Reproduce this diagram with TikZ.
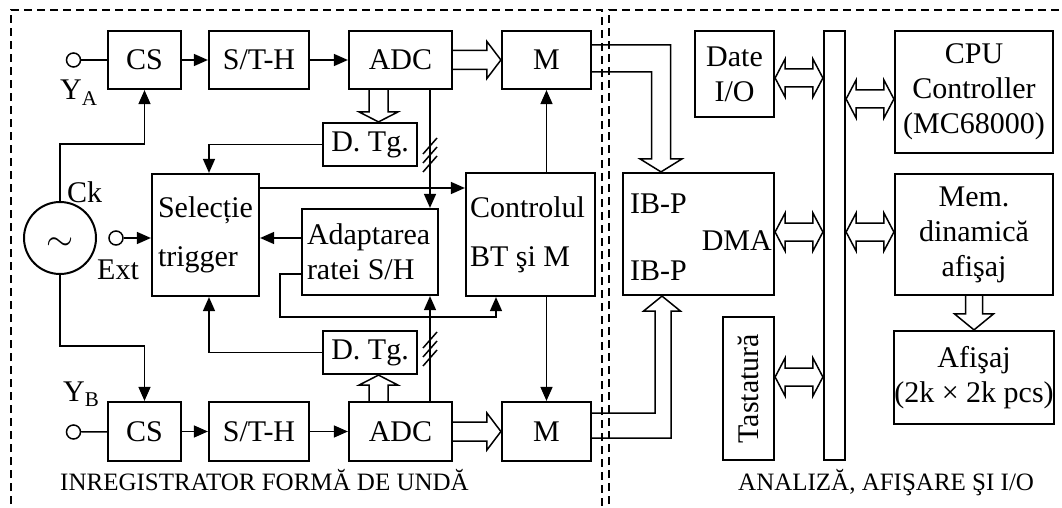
\documentclass[tikz,border=0pt]{standalone}
\usepackage{fontspec}
\setmainfont{Liberation Serif}
\usepackage{graphicx}
\usetikzlibrary{arrows.meta, calc}

\tikzset{
  blk/.style={draw, line width=2.2pt, inner sep=0pt, align=center},
  txtl/.style={blk, align=flush left},
  con/.style={line width=1.5pt},
  arr/.style={con, -{Triangle[length=14pt,width=12pt]}},
  fat/.style={line width=1.5pt, line join=miter},
  port/.style={draw, circle, line width=1.5pt, minimum size=14pt, inner sep=0pt},
  zone/.style={line width=2pt, dash pattern=on 8pt off 5pt},
  lbl/.style={anchor=base west, inner sep=0pt},
}

% hollow double arrow between two points (y taken from the first one)
\newcommand{\dblarrow}[2]{%
  \draw[fat] let \p1=(#1), \p2=(#2) in
    (\x1,\y1) -- (\x1+10pt,\y1+19pt) -- (\x1+10pt,\y1+9pt)
    -- (\x2-10pt,\y1+9pt) -- (\x2-10pt,\y1+19pt) -- (\x2,\y1)
    -- (\x2-10pt,\y1-19pt) -- (\x2-10pt,\y1-9pt)
    -- (\x1+10pt,\y1-9pt) -- (\x1+10pt,\y1-19pt) -- cycle;}

\begin{document}
\begin{tikzpicture}[x=1pt, y=1pt, font=\fontsize{30}{35}\selectfont]
  \useasboundingbox (0,0) rectangle (1062,-508);
  \clip (0,0) rectangle (1062,-508);
  % zones
  \draw[zone] (11,-530) |- (602,-10) -- (602,-530);
  \draw[zone] (609,-530) |- (1080,-10);

  % channel A
  \node[port] (inA) at (73.5,-60) {};
  \node[blk, minimum width=73pt, minimum height=58pt] (csA) at (144.5,-60) {CS};
  \node[blk, minimum width=100pt, minimum height=58pt] (sthA) at (259,-60) {S/T-H};
  \node[blk, minimum width=103pt, minimum height=58pt] (adcA) at (400.5,-60) {ADC};
  \node[blk, minimum width=89pt, minimum height=58pt] (mA) at (546.5,-60) {M};
  \node[blk, minimum width=94pt, minimum height=43pt] (dtgA) at (370,-144.5) {D. Tg.};
  % channel B
  \node[port] (inB) at (73.5,-432) {};
  \node[blk, minimum width=73pt, minimum height=59pt] (csB) at (144.5,-431.5) {CS};
  \node[blk, minimum width=100pt, minimum height=59pt] (sthB) at (259,-431.5) {S/T-H};
  \node[blk, minimum width=103pt, minimum height=59pt] (adcB) at (400.5,-431.5) {ADC};
  \node[blk, minimum width=89pt, minimum height=59pt] (mB) at (546.5,-431.5) {M};
  \node[blk, minimum width=94pt, minimum height=43pt] (dtgB) at (370,-352.5) {D. Tg.};
  % trigger and control
  \node[txtl, text width=95pt, inner xsep=6pt, minimum height=122pt] (sel) at (205.5,-235) {Selecție\\[14pt]trigger};
  \node[txtl, text width=126pt, inner xsep=5pt, minimum height=86pt] (adapt) at (370,-252) {Adaptarea\\ratei S/H};
  \node[txtl, text width=121pt, inner xsep=4pt, minimum height=123pt] (ctrl) at (530.5,-234.5) {Controlul\\[14pt]BT şi M};
  \node[port] (inExt) at (116,-238) {};
  \node[circle, draw, line width=2pt, minimum size=72pt, inner sep=0pt] (clk) at (60,-238) {};
  \node[inner sep=0pt] (tilde) at (60,-244) {\scalebox{1.4}{$\sim$}};
  % labels
  \node[lbl] (lblYA) at (60,-100) {Y\textsubscript{A}};
  \node[lbl] (lblYB) at (63,-401.5) {Y\textsubscript{B}};
  \node[lbl] (lblCk) at (67,-202) {Ck};
  \node[lbl] (lblExt) at (97,-279) {Ext};

  % analysis side
  \node[blk, minimum width=79pt, minimum height=86pt] (dateio) at (734.5,-74) {Date\\I/O};
  \node[blk, minimum width=21pt, minimum height=429pt] (bus) at (834.5,-245.5) {};
  \node[blk, minimum width=158pt, minimum height=122pt] (cpu) at (974,-92) {CPU\\Controller\\(MC68000)};
  \node[blk, minimum width=151pt, minimum height=122pt] (ibp) at (698.5,-234) {};
  \node[lbl] (ibpT) at (630,-213) {IB-P};
  \node[lbl] (ibpB) at (630,-280) {IB-P};
  \node[anchor=base east, inner sep=0pt] (dma) at (772,-250) {DMA};
  \node[blk, minimum width=158pt, minimum height=121pt] (mem) at (974,-234.5) {Mem.\\dinamică\\afişaj};
  \node[blk, minimum width=158pt, minimum height=93pt] (afis) at (974,-377.5) {Afişaj\\(2k × 2k pcs)};
  \node[blk, minimum width=51pt, minimum height=143pt] (tast) at (748.5,-388.5) {\rotatebox{90}{Tastatură}};

  % titles
  \node[lbl, font=\fontsize{25}{30}\selectfont] (titleL) at (60,-490) {INREGISTRATOR FORMĂ DE UNDĂ};
  \node[lbl, font=\fontsize{25}{30}\selectfont] (titleR) at (738,-490) {ANALIZĂ, AFIŞARE ŞI I/O};

  % signal paths
  \draw[con] (inA) -- (csA);
  \draw[arr] (csA) -- (sthA);
  \draw[arr] (sthA) -- (adcA);
  \draw[con] (inB) -- (csB);
  \draw[arr] (csB) -- (sthB);
  \draw[arr] (sthB) -- (adcB);
  \draw[arr] (clk.north) -- ++(0,57) -| (csA.south);
  \draw[arr] (clk.south) -- ++(0,-71) -| (csB.north);
  \draw[arr] (inExt.east) -- (inExt.east -| sel.west);
  \draw[arr] (dtgA.west) -| ([xshift=3.5pt]sel.north);
  \draw[arr] (dtgB.west) -| ([xshift=3.5pt]sel.south);
  \draw[arr] ([yshift=14pt]adapt.west) -- ([yshift=14pt]adapt.west -| sel.east);
  \draw[arr] ([yshift=47pt]sel.east) -- ([yshift=47pt]sel.east -| ctrl.west);
  \draw[arr] ([yshift=-22pt]adapt.west) -- ++(-21,0) -- ++(0,-43) -| ([xshift=-34.5pt]ctrl.south);
  \draw[arr] (mA.south |- ctrl.north) -- (mA.south);
  \draw[arr] (mB.north |- ctrl.south) -- (mB.north);
  % sample buses with hatch
  \coordinate (busA) at ([xshift=29.5pt]adcA.south);
  \coordinate (busB) at ([xshift=29.5pt]adcB.north);
  \draw[arr] (busA) -- (busA |- adapt.north);
  \draw[arr] (busB) -- (busB |- adapt.south);
  \foreach \d in {-9,0,9} {
    \draw[con] ($(busA |- 0,-155)+(-7,\d-8)$) -- ++(14,16);
    \draw[con] ($(busB |- 0,-349)+(-7,\d-8)$) -- ++(14,16);
  }

  % hollow arrows
  \draw[fat] let \p1=(adcA.east), \p2=(mA.west) in
    (\x1,\y1+9.5pt) -- (\x2-14pt,\y1+9.5pt) -- (\x2-14pt,\y1+18.5pt) -- (\x2,\y1)
    -- (\x2-14pt,\y1-18.5pt) -- (\x2-14pt,\y1-9.5pt) -- (\x1,\y1-9.5pt);
  \draw[fat] let \p1=(adcB.east), \p2=(mB.west) in
    (\x1,\y1+9.5pt) -- (\x2-14pt,\y1+9.5pt) -- (\x2-14pt,\y1+18.5pt) -- (\x2,\y1)
    -- (\x2-14pt,\y1-18.5pt) -- (\x2-14pt,\y1-9.5pt) -- (\x1,\y1-9.5pt);
  \draw[fat] let \p1=($(adcA.south)+(-22,0)$), \p2=(dtgA.north) in
    (\x1-9.5pt,\y1) -- (\x1-9.5pt,\y2+10pt) -- (\x1-19.5pt,\y2+10pt) -- (\x1,\y2)
    -- (\x1+19.5pt,\y2+10pt) -- (\x1+9.5pt,\y2+10pt) -- (\x1+9.5pt,\y1);
  \draw[fat] let \p1=($(adcB.north)+(-22,0)$), \p2=(dtgB.south) in
    (\x1-9.5pt,\y1) -- (\x1-9.5pt,\y2-10pt) -- (\x1-19.5pt,\y2-10pt) -- (\x1,\y2)
    -- (\x1+19.5pt,\y2-10pt) -- (\x1+9.5pt,\y2-10pt) -- (\x1+9.5pt,\y1);
  \draw[fat] let \p1=(mA.east), \p2=($(ibp.north)+(-37.5,0)$) in
    (\x1,\y1+15pt) -- (\x2+9.5pt,\y1+15pt) -- (\x2+9.5pt,\y2+13pt) -- (\x2+21pt,\y2+13pt)
    -- (\x2,\y2) -- (\x2-21pt,\y2+13pt) -- (\x2-9.5pt,\y2+13pt) -- (\x2-9.5pt,\y1-12pt)
    -- (\x1,\y1-12pt);
  \draw[fat] let \p1=(mB.east), \p2=($(ibp.south)+(-36.5,0)$) in
    (\x1,\y1+18.5pt) -- (\x2-7pt,\y1+18.5pt) -- (\x2-7pt,\y2-15pt) -- (\x2-18.5pt,\y2-15pt)
    -- (\x2,\y2) -- (\x2+18.5pt,\y2-15pt) -- (\x2+9pt,\y2-15pt) -- (\x2+9pt,\y1-6.5pt)
    -- (\x1,\y1-6.5pt);
  \draw[fat] let \p1=(mem.south), \p2=(afis.north) in
    (\x1-8.5pt,\y1) -- (\x1-8.5pt,\y2+16pt) -- (\x1-19.5pt,\y2+16pt) -- (\x1,\y2)
    -- (\x1+19.5pt,\y2+16pt) -- (\x1+8.5pt,\y2+16pt) -- (\x1+8.5pt,\y1);
  % bus connections
  \dblarrow{$(dateio.east)+(0,-4)$}{bus.west}
  \dblarrow{bus.east |- 0,-99}{cpu.west}
  \dblarrow{ibp.east |- 0,-232}{bus.west}
  \dblarrow{bus.east |- 0,-232}{mem.west}
  \dblarrow{$(tast.east)+(0,11.5)$}{bus.west}
\end{tikzpicture}
\end{document}
